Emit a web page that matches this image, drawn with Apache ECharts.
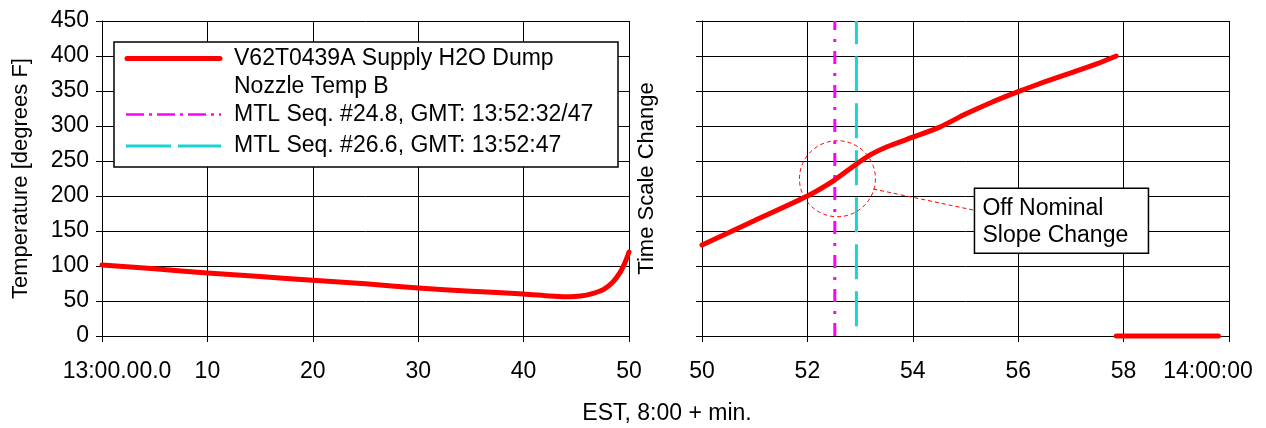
<!DOCTYPE html>
<html>
<head>
<meta charset="utf-8">
<script src="https://cdn.jsdelivr.net/npm/echarts@6/dist/echarts.min.js"></script>
<style>
html,body{margin:0;padding:0;background:#fff;}
#chart{width:1266px;height:428px;}
</style>
</head>
<body>
<div id="chart"></div>
<script>
// ---- data ----
const leftMinutes = [0, 5, 10, 15, 20, 25, 30, 35, 40, 42.5, 44, 45.4, 46.6, 47.6, 48.5, 49.2, 49.65, 50];
const leftTemps   = [101.5, 96, 90, 85, 79.5, 74.5, 68.5, 64, 60, 57, 56, 57, 61, 66.7, 77.6, 92, 106, 120];
const rightMinutes = [50, 51, 52, 52.5, 52.9, 53.2, 53.5, 54, 54.5, 55, 55.5, 56, 56.5, 57, 57.5, 57.86];
const rightTemps   = [130, 165, 200, 222, 244, 259, 270, 284, 298, 317, 334, 349, 363, 376, 389, 400];
const tailMinutes = [57.86, 59.8];
const tailTemps   = [0, 0];
const seq248Minute = 52.52;
const seq248Range  = [0, 450];
const seq266Minute = 52.93;
const seq266Range  = [14, 450];
const leftTicks  = [0, 10, 20, 30, 40, 50];
const leftTickLabels = ['13:00.00.0', '10', '20', '30', '40', '50'];
const rightTickLabels = { 50: '50', 52: '52', 54: '54', 56: '56', 58: '58', 60: '14:00:00' };
const seriesNames = ['V62T0439A Supply H2O Dump\nNozzle Temp B', 'MTL Seq. #24.8, GMT: 13:52:32/47', 'MTL Seq. #26.6, GMT: 13:52:47'];
const calloutCenter = [52.57, 224.7];
const calloutLeaderStart = [53.25, 210];
const calloutBoxCorner = [55.17, 211];

const FONT = '"Liberation Sans", Arial, sans-serif';
const FS = 23;
const FSR = 22;

const pair = (xs, ys) => xs.map((x, i) => [x, ys[i]]);

const chart = echarts.init(document.getElementById('chart'), null, { renderer: 'canvas' });

const axisCommon = {
  axisLine: { show: true, lineStyle: { color: '#000', width: 1 } },
  axisTick: { show: true, inside: false, length: 6, lineStyle: { color: '#000' } },
  splitLine: { show: true, lineStyle: { color: '#000', width: 1 } },
  axisLabel: { color: '#000', fontFamily: FONT, fontSize: FS }
};

const option = {
  animation: false,
  backgroundColor: '#fff',
  grid: [
    { left: 102, top: 21, width: 527, height: 315 },
    { left: 702, top: 21, width: 527, height: 315 }
  ],
  xAxis: [
    Object.assign({}, axisCommon, {
      type: 'value', gridIndex: 0, min: 0, max: 50, interval: 10,
      axisLabel: Object.assign({}, axisCommon.axisLabel, {
        margin: 24,
        formatter: v => v === 0 ? '{f|' + leftTickLabels[0] + '}' : leftTickLabels[leftTicks.indexOf(v)],
        rich: { f: { fontFamily: FONT, fontSize: FS, color: '#000', padding: [0, 0, 0, 30] } }
      })
    }),
    Object.assign({}, axisCommon, {
      type: 'value', gridIndex: 1, min: 50, max: 60, interval: 2,
      axisLabel: Object.assign({}, axisCommon.axisLabel, {
        margin: 24,
        formatter: v => v === 60 ? '{r|' + rightTickLabels[v] + '}' : rightTickLabels[v],
        rich: { r: { fontFamily: FONT, fontSize: FS, color: '#000', padding: [0, 42, 0, 0] } }
      })
    })
  ],
  yAxis: [
    Object.assign({}, axisCommon, {
      type: 'value', gridIndex: 0, min: 0, max: 450, interval: 50,
      name: 'Temperature [degrees F]', nameLocation: 'middle', nameGap: 70, nameRotate: 90,
      nameTextStyle: { fontFamily: FONT, fontSize: FSR, color: '#000' },
      axisLabel: Object.assign({}, axisCommon.axisLabel, { margin: 13 })
    }),
    Object.assign({}, axisCommon, {
      type: 'value', gridIndex: 1, min: 0, max: 450, interval: 50,
      name: 'Time Scale Change', nameLocation: 'middle', nameGap: 44, nameRotate: 90,
      nameTextStyle: { fontFamily: FONT, fontSize: FSR, color: '#000' },
      axisLabel: { show: false }
    })
  ],
  series: [
    {
      name: seriesNames[0], type: 'line', xAxisIndex: 0, yAxisIndex: 0,
      data: pair(leftMinutes, leftTemps), showSymbol: false, clip: false,
      smooth: 0.25,
      lineStyle: { color: '#ff0000', width: 5, cap: 'round', join: 'round' }, z: 5
    },
    {
      name: seriesNames[0] + ' ', type: 'line', xAxisIndex: 1, yAxisIndex: 1,
      data: pair(rightMinutes, rightTemps), showSymbol: false, clip: false,
      smooth: 0.2,
      lineStyle: { color: '#ff0000', width: 5, cap: 'round', join: 'round' }, z: 5
    },
    {
      name: seriesNames[0] + '  ', type: 'line', xAxisIndex: 1, yAxisIndex: 1,
      data: pair(tailMinutes, tailTemps), showSymbol: false, clip: false,
      lineStyle: { color: '#ff0000', width: 5, cap: 'round' }, z: 5
    },
    {
      name: seriesNames[1], type: 'line', xAxisIndex: 1, yAxisIndex: 1,
      data: seq248Range.map(t => [seq248Minute, t]), showSymbol: false, clip: false,
      lineStyle: { color: '#ff00ff', width: 3, type: [13, 9, 3, 9] }, z: 4
    },
    {
      name: seriesNames[2], type: 'line', xAxisIndex: 1, yAxisIndex: 1,
      data: seq266Range.map(t => [seq266Minute, t]), showSymbol: false, clip: false,
      lineStyle: { color: '#19d4d4', width: 3, type: [35, 12] }, z: 4
    }
  ]
};
chart.setOption(option);

// ---- annotations: legend box, callout, x-axis title ----
const c = chart.convertToPixel({ xAxisIndex: 1, yAxisIndex: 1 }, calloutCenter);
const ls = chart.convertToPixel({ xAxisIndex: 1, yAxisIndex: 1 }, calloutLeaderStart);
const bc = chart.convertToPixel({ xAxisIndex: 1, yAxisIndex: 1 }, calloutBoxCorner);
const txt = (text, x, y, extra) => ({
  type: 'text', x: x, y: y, z: 101,
  style: Object.assign({ text: text, fill: '#000', font: FS + 'px ' + FONT, textVerticalAlign: 'middle' }, extra || {})
});

chart.setOption({
  graphic: [
    // legend
    { type: 'rect', z: 100, shape: { x: 114, y: 42, width: 504, height: 125 },
      style: { fill: '#fff', stroke: '#000', lineWidth: 1.5 } },
    { type: 'line', z: 101, shape: { x1: 127, y1: 58.5, x2: 220, y2: 58.5 },
      style: { stroke: '#ff0000', lineWidth: 5, lineCap: 'round' } },
    txt('V62T0439A Supply H2O Dump', 234, 59),
    txt('Nozzle Temp B', 234, 87),
    { type: 'line', z: 101, shape: { x1: 126, y1: 114.5, x2: 221, y2: 114.5 },
      style: { stroke: '#ff00ff', lineWidth: 2.5, lineDash: [18, 5, 3, 5] } },
    txt(seriesNames[1], 234, 115),
    { type: 'line', z: 101, shape: { x1: 126, y1: 146, x2: 221, y2: 146 },
      style: { stroke: '#19d4d4', lineWidth: 3, lineDash: [45, 7] } },
    txt(seriesNames[2], 234, 146),
    // callout
    { type: 'circle', z: 50, shape: { cx: c[0], cy: c[1], r: 38 },
      style: { fill: null, stroke: '#ff0000', lineWidth: 1, lineDash: [4, 3] } },
    { type: 'line', z: 50, shape: { x1: ls[0], y1: ls[1], x2: bc[0], y2: bc[1] + 22 },
      style: { stroke: '#ff0000', lineWidth: 1, lineDash: [4, 3] } },
    { type: 'rect', z: 100, shape: { x: bc[0], y: bc[1], width: 174, height: 65 },
      style: { fill: '#fff', stroke: '#000', lineWidth: 1.5 } },
    txt('Off Nominal', bc[0] + 8, bc[1] + 20.5),
    txt('Slope Change', bc[0] + 8, bc[1] + 47.5),
    // x-axis title
    txt('EST, 8:00 + min.', 667, 414, { textAlign: 'center' })
  ]
});
</script>
</body>
</html>
